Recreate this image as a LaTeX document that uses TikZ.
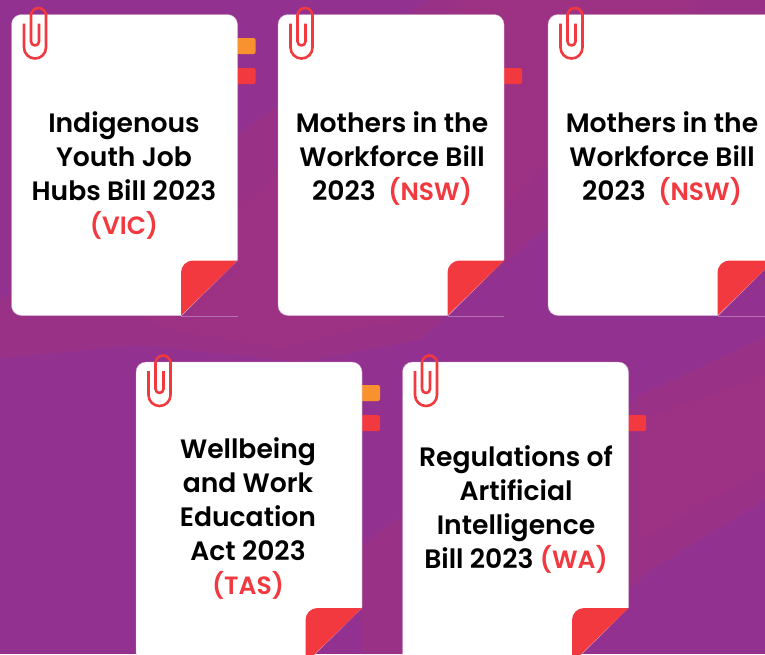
\documentclass[tikz,border=0pt]{standalone}
\usepackage{fontspec}
\setmainfont{Poppins}[UprightFont=* SemiBold,BoldFont=* SemiBold]
\definecolor{bgpurple}{HTML}{92318F}
\definecolor{bgmag}{HTML}{A8327A}
\definecolor{redc}{HTML}{F1393F}
\definecolor{orangec}{HTML}{F8922E}
\tikzset{
  cardbody/.style={fill=white,draw=white!60!bgpurple,line width=.4pt},
  tabshape/.style={rounded corners=2pt},
  clipline/.style={draw=redc,line width=2.6pt,line cap=butt,line join=round},
  titletext/.style={align=center,font=\fontsize{26.6}{34}\selectfont,text=black,inner sep=0pt},
  streak/.style={fill=bgmag,opacity=.35},
  softstreak/.style={fill=bgmag,opacity=.3},
  hairline/.style={draw=white!30!bgpurple,line width=.7pt},
}
\newcommand{\rd}[1]{{\fontsize{25}{34}\selectfont\textcolor{redc}{#1}}}
% \mycard{x}{y}: card with top-left at x,y
\newcommand{\mycard}[2]{%
 \begin{scope}[shift={(#1,#2)}]
  \path[cardbody] (0,10) arc[start angle=180,end angle=270,radius=10] -- (216,0)
    arc[start angle=270,end angle=360,radius=10] -- (226,245.5) -- (170,301)
    -- (10,301) arc[start angle=90,end angle=180,radius=10] -- cycle;
  \draw[hairline] (169.5,301.5) -- (226,301.5);
  \fill[redc] (169.5,301) -- (169.5,258) arc[start angle=180,end angle=270,radius=12] -- (226,246) -- cycle;
  \draw[clipline] (12.5,9) -- (12.5,33) arc[start angle=180,end angle=0,radius=11]
    -- (34.5,1) arc[start angle=0,end angle=-180,radius=7.5]
    -- (19.5,27) arc[start angle=180,end angle=0,radius=4] -- (27.5,9);
 \end{scope}}
\begin{document}
\begin{tikzpicture}[x=1pt,y=-1pt]
\useasboundingbox (0,0) rectangle (765,654);
\begin{scope}
\clip (0,0) rectangle (765,654);
\fill[bgpurple] (0,0) rectangle (765,654);
\fill[streak] (430,0) -- (765,0) -- (765,30) -- (420,340) -- (300,362) -- (140,345) -- (0,358) -- (0,300) -- cycle;
\fill[softstreak] (460,0) -- (700,0) -- (400,320) -- (280,348) -- (170,330) -- (130,310) -- cycle;
\fill[streak] (765,337) -- (765,500) -- (650,570) -- (560,654) -- (400,654) -- (640,395) -- cycle;
\fill[softstreak] (765,375) -- (765,470) -- (640,540) -- (640,420) -- cycle;
\fill[streak] (362,545) -- (402,515) -- (402,654) -- (362,654) -- cycle;
% tabs
\fill[orangec,tabshape] (225,38) rectangle (255.5,54);
\fill[redc,tabshape] (225,68) rectangle (255.5,84);
\fill[redc,tabshape] (490,68) rectangle (522,84);
\fill[orangec,tabshape] (350,385) rectangle (380,401);
\fill[redc,tabshape] (350,415) rectangle (380,431);
\fill[redc,tabshape] (615,415) rectangle (646,431);
% cards
\mycard{11.5}{14.5}
\mycard{278}{14.5}
\mycard{548}{14.5}
\mycard{136}{362}
\mycard{402.5}{362}
\end{scope}
\node[titletext,anchor=north] (t1) at (124,111) {Indigenous\\Youth Job\\Hubs Bill 2023\\\rd{(VIC)}};
\node[titletext,anchor=north] (t2) at (392,111) {Mothers in the\\Workforce Bill\\2023\ \ \rd{(NSW)}};
\node[titletext,anchor=north] (t3) at (662,111) {Mothers in the\\Workforce Bill\\2023\ \ \rd{(NSW)}};
\node[titletext,anchor=north] (t4) at (248,437) {Wellbeing\\and Work\\Education\\Act 2023\\\rd{(TAS)}};
\node[titletext,anchor=north] (t5) at (516,445) {Regulations of\\Artificial\\Intelligence\\Bill 2023 \rd{(WA)}};
\end{tikzpicture}
\end{document}
